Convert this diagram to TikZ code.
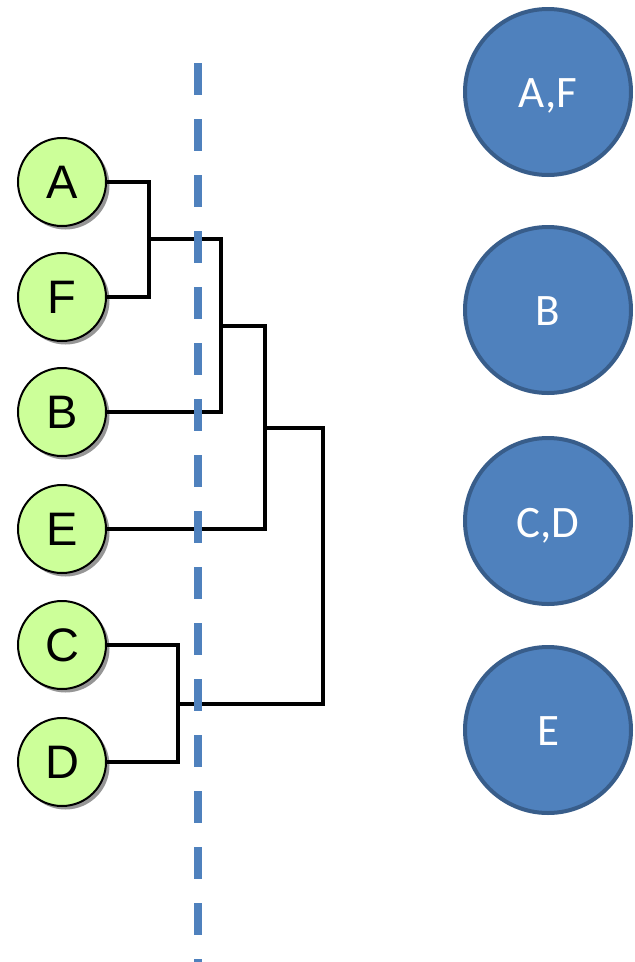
\documentclass[tikz,border=0pt]{standalone}
\usepackage{fontspec}
\setmainfont{Liberation Sans}
\newfontfamily\labelfont{Carlito}
\usetikzlibrary{shadows}
\definecolor{leafgreen}{HTML}{CCFF99}
\definecolor{clusterblue}{HTML}{4F81BD}
\definecolor{clusteredge}{HTML}{385D8A}
\tikzset{
  leaf/.style={circle, draw=black, line width=2pt, fill=leafgreen,
    minimum size=88pt, inner sep=0pt,
    font=\fontsize{47}{47}\selectfont,
    drop shadow={shadow xshift=3.5pt, shadow yshift=-3.5pt, opacity=0.55, fill=black!75}},
  cluster/.style={circle, draw=clusteredge, line width=4pt, fill=clusterblue,
    minimum size=166pt, inner sep=0pt, text=white, text depth=0pt,
    font=\labelfont\fontsize{45}{45}\selectfont},
  link/.style={draw=black, line width=3.6pt, line join=miter},
  cutline/.style={draw=clusterblue, line width=8pt, dash pattern=on 32pt off 24pt}
}
\newcommand{\clabel}[1]{\raisebox{-3pt}{#1}}
\begin{document}
\begin{tikzpicture}[x=1pt,y=-1pt]
\useasboundingbox (0,0) rectangle (635,962);

% leaves of the dendrogram
\node[leaf] (nA) at (62,182) {A};
\node[leaf] (nF) at (62,297) {F};
\node[leaf] (nB) at (62,412) {B};
\node[leaf] (nE) at (62,529) {E};
\node[leaf] (nC) at (62,645) {C};
\node[leaf] (nD) at (62,762) {D};

% merge points (midpoints of the vertical bars)
\coordinate (jAF)   at (149,239);
\coordinate (jAFB)  at (221,326);
\coordinate (jAFBE) at (265,428);
\coordinate (jCD)   at (178,704);
\coordinate (root)  at (323,566);

% dendrogram links
\draw[link] (nA.east) -| (jAF) |- (nF.east);
\draw[link] (jAF) -| (jAFB) |- (nB.east);
\draw[link] (jAFB) -| (jAFBE) |- (nE.east);
\draw[link] (nC.east) -| (jCD) |- (nD.east);
\draw[link] (jAFBE) -| (root) |- (jCD);

% cut line
\coordinate (cutTop) at (198,63);
\coordinate (cutBot) at (198,962);
\draw[cutline] (cutTop) -- (cutBot);

% resulting clusters
\node[cluster] (cAF) at (548,92)  {\clabel{A,F}};
\node[cluster] (cB)  at (548,310) {\clabel{B}};
\node[cluster] (cCD) at (548,521) {\clabel{C,D}};
\node[cluster] (cE)  at (548,730) {\clabel{E}};
\end{tikzpicture}
\end{document}
